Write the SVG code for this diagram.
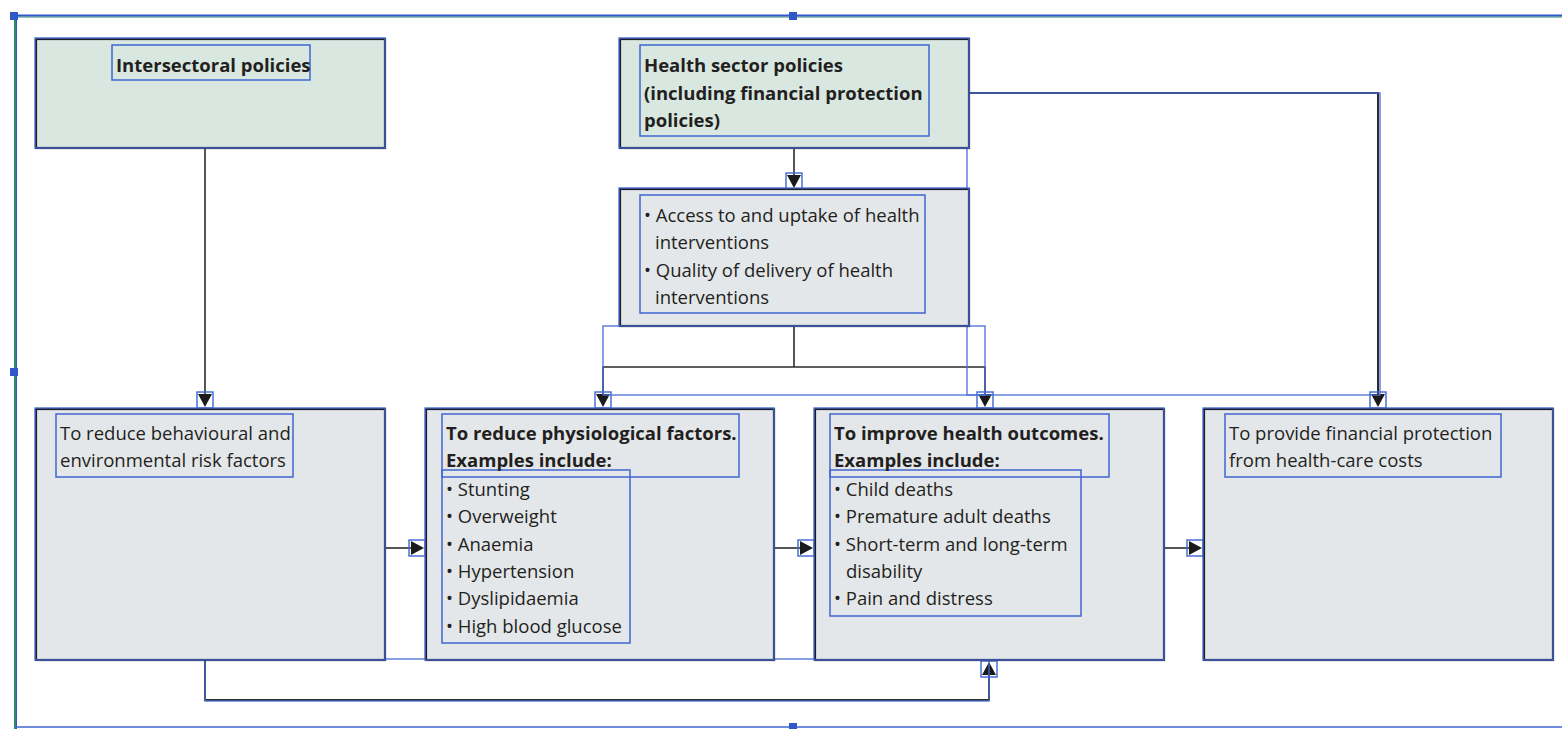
<svg xmlns="http://www.w3.org/2000/svg" width="1562" height="729" viewBox="0 0 1562 729">
<style>
.bg{fill:#ffffff}
.boxG{fill:#d9e7e1;stroke:#1c1c28;stroke-width:2.2}
.boxN{fill:#e4e7ea;stroke:#1c1c28;stroke-width:2.2}
.sel{fill:none;stroke:#4a6fd4;stroke-width:1.3}
.selT{fill:none;stroke:#3f66d0;stroke-width:1.5}
.ln{fill:none;stroke:#2b2b2b;stroke-width:1.6}
.lnB{fill:none;stroke:#2b2b2b;stroke-width:2}
.t{font-family:"Open Sans","DejaVu Sans",sans-serif;font-size:18.5px;fill:#231f20}
.b{font-weight:bold}
.handle{fill:#3158c8}
</style>
<defs>
<g id="ad"><rect x="-8" y="-15" width="16" height="16" fill="none" stroke="#3f66d0" stroke-width="1.4"/><polygon points="-7,-13 7,-13 0,0" fill="#1a1a1a"/></g>
<g id="ar"><rect x="-15" y="-8" width="16" height="16" fill="none" stroke="#3f66d0" stroke-width="1.4"/><polygon points="-13,-7 -13,7 0,0" fill="#1a1a1a"/></g>
<g id="au"><rect x="-8" y="-1" width="16" height="16" fill="none" stroke="#3f66d0" stroke-width="1.4"/><polygon points="-7,13 7,13 0,0" fill="#1a1a1a"/></g>
</defs>
<rect class="bg" x="0" y="0" width="1562" height="729"/>

<g id="frame">
<line x1="14" y1="17" x2="1562" y2="17" stroke="#2f8a6a" stroke-width="1"/>
<line x1="14" y1="15.5" x2="1562" y2="15.5" stroke="#3158c8" stroke-width="2"/>
<line x1="15" y1="16" x2="15" y2="729" stroke="#2f8a6a" stroke-width="2"/>
<line x1="16.5" y1="16" x2="16.5" y2="729" stroke="#3158c8" stroke-width="1"/>
<line x1="14" y1="727" x2="1562" y2="727" stroke="#3f66d0" stroke-width="1.3"/>
<rect class="handle" x="10" y="12" width="8" height="8"/>
<rect class="handle" x="789" y="12" width="8" height="8"/>
<rect class="handle" x="10" y="368" width="8" height="8"/>
<rect class="handle" x="789" y="723" width="8" height="8"/>
</g>

<g id="connectors">
<line class="ln" x1="205" y1="148" x2="205" y2="396"/>
<use href="#ad" x="205" y="407"/>
<line class="ln" x1="794" y1="148" x2="794" y2="177"/>
<use href="#ad" x="794" y="188"/>
<polyline class="ln" points="794,326 794,367"/>
<polyline class="ln" points="603,396 603,367 985,367 985,396"/>
<use href="#ad" x="603" y="407"/>
<use href="#ad" x="985" y="407"/>
<polyline class="lnB" points="969,93 1378,93 1378,396"/>
<use href="#ad" x="1378" y="407"/>
<line class="ln" x1="385" y1="548" x2="412" y2="548"/>
<use href="#ar" x="424" y="548"/>
<line class="ln" x1="774" y1="548" x2="801" y2="548"/>
<use href="#ar" x="813" y="548"/>
<line class="ln" x1="1164" y1="548" x2="1190" y2="548"/>
<use href="#ar" x="1202" y="548"/>
<polyline class="lnB" points="205,660 205,700 989,700 989,675"/>
<use href="#au" x="989" y="662"/>
<rect class="sel" x="603" y="326" width="382" height="69"/>
<rect class="sel" x="967" y="93" width="413" height="302"/>
<rect class="sel" x="205" y="659" width="784" height="42"/>
</g>

<g id="n-intersectoral">
<rect class="boxG" x="36" y="39" width="349" height="109"/>
<rect class="sel" x="35" y="38" width="350" height="110"/>
<rect class="selT" x="112" y="45" width="198" height="35"/>
<text class="t b" x="116" y="72">Intersectoral policies</text>
</g>

<g id="n-health">
<rect class="boxG" x="620" y="39" width="349" height="109"/>
<rect class="sel" x="619" y="38" width="350" height="110"/>
<rect class="selT" x="640" y="45" width="289" height="91"/>
<text class="t b" x="644" y="72">Health sector policies</text>
<text class="t b" x="644" y="100">(including financial protection</text>
<text class="t b" x="644" y="127">policies)</text>
</g>

<g id="n-access">
<rect class="boxN" x="620" y="189" width="349" height="137"/>
<rect class="sel" x="619" y="188" width="350" height="138"/>
<rect class="selT" x="640" y="195" width="285" height="118"/>
<text class="t" x="644" y="222">• Access to and uptake of health</text>
<text class="t" x="655" y="249">interventions</text>
<text class="t" x="644" y="277">• Quality of delivery of health</text>
<text class="t" x="655" y="304">interventions</text>
</g>

<g id="n-behavioural">
<rect class="boxN" x="36" y="409" width="349" height="251"/>
<rect class="sel" x="35" y="408" width="350" height="252"/>
<rect class="selT" x="56" y="414" width="237" height="63"/>
<text class="t" x="60" y="440">To reduce behavioural and</text>
<text class="t" x="60" y="467">environmental risk factors</text>
</g>

<g id="n-physiological">
<rect class="boxN" x="426" y="409" width="348" height="251"/>
<rect class="sel" x="425" y="408" width="349" height="252"/>
<rect class="selT" x="442" y="414" width="297" height="63"/>
<rect class="selT" x="442" y="470" width="188" height="173"/>
<text class="t b" x="446" y="440">To reduce physiological factors.</text>
<text class="t b" x="446" y="467">Examples include:</text>
<text class="t" x="446" y="496">• Stunting</text>
<text class="t" x="446" y="523">• Overweight</text>
<text class="t" x="446" y="551">• Anaemia</text>
<text class="t" x="446" y="578">• Hypertension</text>
<text class="t" x="446" y="605">• Dyslipidaemia</text>
<text class="t" x="446" y="633">• High blood glucose</text>
</g>

<g id="n-outcomes">
<rect class="boxN" x="815" y="409" width="349" height="251"/>
<rect class="sel" x="814" y="408" width="350" height="252"/>
<rect class="selT" x="830" y="414" width="279" height="63"/>
<rect class="selT" x="830" y="470" width="251" height="146"/>
<text class="t b" x="834" y="440">To improve health outcomes.</text>
<text class="t b" x="834" y="467">Examples include:</text>
<text class="t" x="834" y="496">• Child deaths</text>
<text class="t" x="834" y="523">• Premature adult deaths</text>
<text class="t" x="834" y="551">• Short-term and long-term</text>
<text class="t" x="846" y="578">disability</text>
<text class="t" x="834" y="605">• Pain and distress</text>
</g>

<g id="n-financial">
<rect class="boxN" x="1204" y="409" width="349" height="251"/>
<rect class="sel" x="1203" y="408" width="350" height="252"/>
<rect class="selT" x="1225" y="414" width="276" height="63"/>
<text class="t" x="1229" y="440">To provide financial protection</text>
<text class="t" x="1229" y="467">from health-care costs</text>
</g>
</svg>
